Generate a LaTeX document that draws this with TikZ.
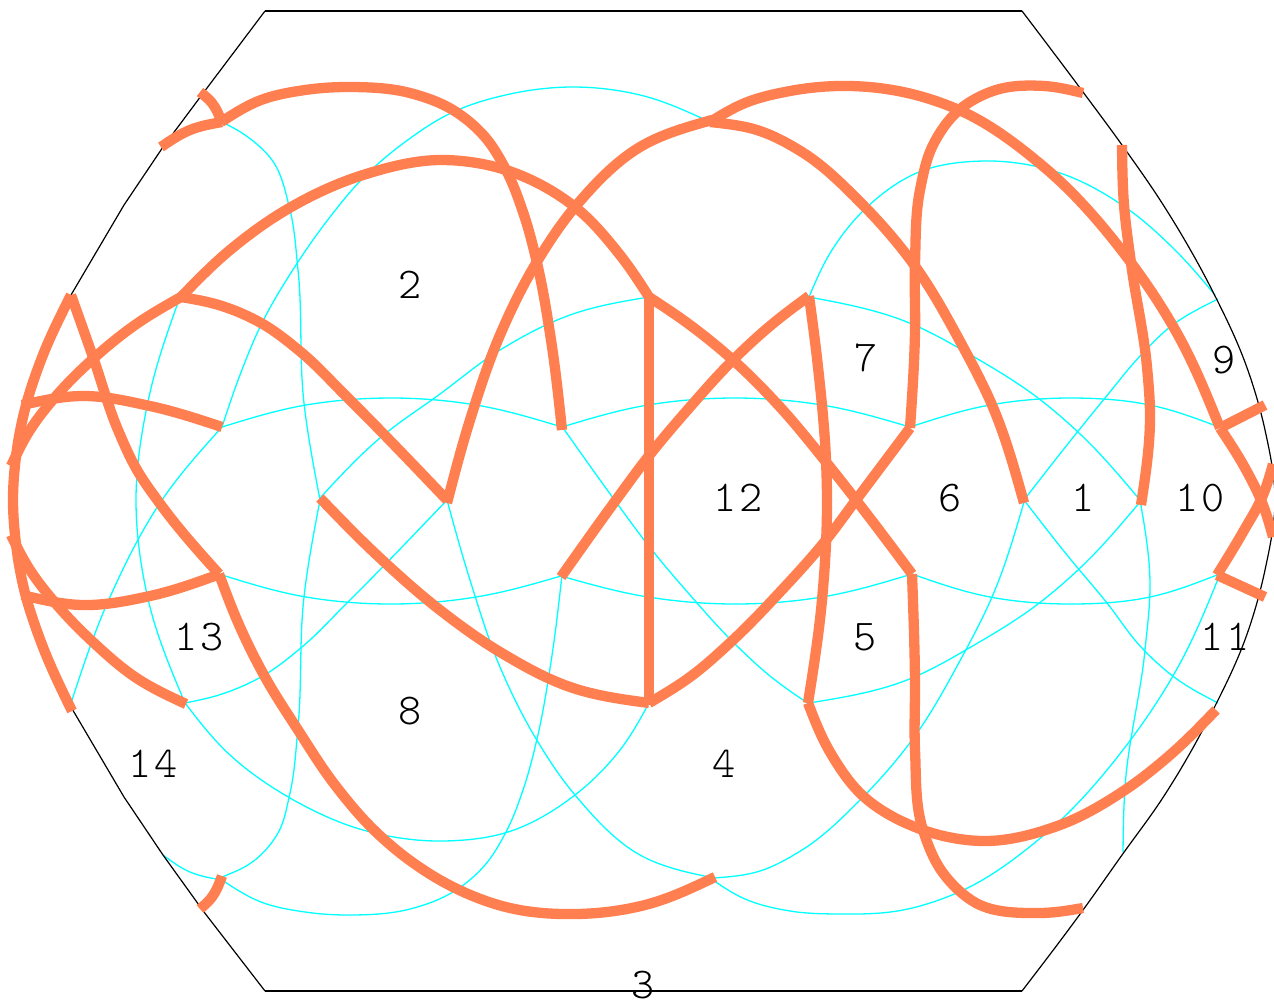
\documentclass[tikz,border=0pt]{standalone}
\usepackage{fontspec}
\newfontfamily\labfont[LetterSpace=6]{Latin Modern Mono Light}
\definecolor{coral}{RGB}{255,127,80}
\definecolor{aqua}{RGB}{0,255,255}
\tikzset{
  thinline/.style={color=aqua,line width=1.3pt,line join=round},
  thickline/.style={color=coral,line width=10.3pt,line join=round},
  frameline/.style={color=black,line width=1.2pt,line join=round},
  lab/.style={font=\labfont\fontsize{44}{44}\selectfont,text=black,inner sep=0pt,anchor=center}
}
% chord-length cubic spline through a list of points
\newcount\spn \newcount\spi \newcount\spa \newcount\spb
\def\spgob{\spgo(}
\def\spgo(#1,#2)#3{\advance\spn by 1
  \expandafter\def\csname spx\the\spn\endcsname{#1}%
  \expandafter\def\csname spy\the\spn\endcsname{#2}%
  \ifx#3\relax\let\spnext\relax\else\let\spnext\spgob\fi\spnext}
\def\spX#1{\csname spx\the#1\endcsname}
\def\spY#1{\csname spy\the#1\endcsname}
\newcommand{\cv}[2]{\begin{scope}[#1]%
  \spn=0 \spgo#2\relax
  \spi=1
  \loop\ifnum\spi<\spn
    \spb=\spi \advance\spb by 1
    \pgfmathsetmacro\tmpd{veclen(\spX\spb-\spX\spi,\spY\spb-\spY\spi)}%
    \expandafter\let\csname spd\the\spi\endcsname\tmpd
    \pgfmathsetmacro\tmpa{(\spX\spb-\spX\spi)/\tmpd}%
    \expandafter\let\csname spu\the\spi\endcsname\tmpa
    \pgfmathsetmacro\tmpa{(\spY\spb-\spY\spi)/\tmpd}%
    \expandafter\let\csname spv\the\spi\endcsname\tmpa
    \advance\spi by 1
  \repeat
  \spi=2
  \loop\ifnum\spi<\spn
    \spa=\spi \advance\spa by -1
    \edef\da{\csname spd\the\spa\endcsname}\edef\db{\csname spd\the\spi\endcsname}%
    \edef\ua{\csname spu\the\spa\endcsname}\edef\ub{\csname spu\the\spi\endcsname}%
    \edef\va{\csname spv\the\spa\endcsname}\edef\vb{\csname spv\the\spi\endcsname}%
    \pgfmathsetmacro\tmpa{(\da*\ub+\db*\ua)/(\da+\db)}%
    \expandafter\let\csname spp\the\spi\endcsname\tmpa
    \pgfmathsetmacro\tmpa{(\da*\vb+\db*\va)/(\da+\db)}%
    \expandafter\let\csname spq\the\spi\endcsname\tmpa
    \advance\spi by 1
  \repeat
  \pgfmathsetmacro\tmpa{(3*\csname spu1\endcsname-\csname spp2\endcsname)/2}%
  \expandafter\let\csname spp1\endcsname\tmpa
  \pgfmathsetmacro\tmpa{(3*\csname spv1\endcsname-\csname spq2\endcsname)/2}%
  \expandafter\let\csname spq1\endcsname\tmpa
  \spa=\spn \advance\spa by -1
  \pgfmathsetmacro\tmpa{(3*\csname spu\the\spa\endcsname-\csname spp\the\spa\endcsname)/2}%
  \expandafter\let\csname spp\the\spn\endcsname\tmpa
  \pgfmathsetmacro\tmpa{(3*\csname spv\the\spa\endcsname-\csname spq\the\spa\endcsname)/2}%
  \expandafter\let\csname spq\the\spn\endcsname\tmpa
  \spi=1
  \pgfpathmoveto{\pgfqpoint{\spX\spi pt}{-\spY\spi pt}}%
  \loop\ifnum\spi<\spn
    \spb=\spi \advance\spb by 1
    \edef\dd{\csname spd\the\spi\endcsname}%
    \pgfmathsetmacro\cax{\spX\spi+\csname spp\the\spi\endcsname*\dd/3}%
    \pgfmathsetmacro\cay{\spY\spi+\csname spq\the\spi\endcsname*\dd/3}%
    \pgfmathsetmacro\cbx{\spX\spb-\csname spp\the\spb\endcsname*\dd/3}%
    \pgfmathsetmacro\cby{\spY\spb-\csname spq\the\spb\endcsname*\dd/3}%
    \pgfpathcurveto{\pgfqpoint{\cax pt}{-\cay pt}}{\pgfqpoint{\cbx pt}{-\cby pt}}{\pgfqpoint{\spX\spb pt}{-\spY\spb pt}}%
    \advance\spi by 1
  \repeat
  \pgfusepath{stroke}\end{scope}}
\begin{document}
\begin{tikzpicture}[x=1pt,y=-1pt]
\useasboundingbox (0,0) rectangle (1274,1002);
\fill[white] (0,0) rectangle (1274,1002);
% cyan
\cv{thinline}{(222,427)(306,405)(390,398)(476,405)(562,427)}
\cv{thinline}{(562,427)(648,405)(735,398)(822,405)(910,427)}
\cv{thinline}{(910,427)(990,405)(1070,398)(1150,405)(1219,427)}
\cv{thinline}{(219,574)(306,597)(390,604)(476,597)(561,576)}
\cv{thinline}{(561,576)(648,597)(735,604)(822,597)(912,574)}
\cv{thinline}{(912,574)(990,597)(1070,604)(1150,597)(1217,575)}
\cv{thinline}{(71,703)(110,597)(162,500)(222,427)}
\cv{thinline}{(222,427)(240,375)(261,325)(296,265)(330,217)(363,178)(405,142)(451,113)(510,94)(575,87)(640,95)(712,123)}
\cv{thinline}{(180,297)(149,397)(136,500)(149,603)(185,703)}
\cv{thinline}{(185,703)(230,755)(290,798)(363,830)(443,841)(508,832)(575,795)(620,750)(649,703)}
\cv{thinline}{(185,703)(222,694)(261,677)(302,647)(345,605)(447,500)}
\cv{thinline}{(447,500)(470,580)(500,667)(535,737)(575,795)(640,855)(714,878)}
\cv{thinline}{(320,498)(380,438)(440,394)(500,350)(570,315)(649,297)}
\cv{thinline}{(320,500)(304,597)(298,727)(290,793)(278,833)(255,860)(222,877)}
\cv{thinline}{(320,500)(304,403)(298,270)(290,210)(272,160)(245,135)(222,122)}
\cv{thinline}{(163,855)(190,872)(222,880)}
\cv{thinline}{(222,880)(261,902)(305,912)(351,915)(410,909)(453,892)(485,865)(506,832)(524,787)(537,739)(551,662)(562,575)}
\cv{thinline}{(561,425)(616,502)(648,545)(690,595)(733,642)(770,676)(809,704)}
\cv{thinline}{(809,297)(832,250)(862,212)(919,172)(984,161)(1060,173)(1125,207)(1175,250)(1215,295)}
\cv{thinline}{(809,297)(907,322)(976,358)(1038,398)(1079,433)(1140,500)}
\cv{thinline}{(809,703)(907,680)(976,644)(1038,604)(1079,569)(1140,502)}
\cv{thinline}{(1024,500)(1067,445)(1105,398)(1141,355)(1170,327)(1218,299)}
\cv{thinline}{(1024,500)(1067,555)(1107,603)(1141,647)(1174,677)(1218,703)}
\cv{thinline}{(1024,502)(992,597)(962,657)(912,740)(862,798)(802,850)(760,871)(714,878)}
\cv{thinline}{(710,878)(745,899)(790,911)(838,914)(903,910)(959,892)(1044,835)(1129,742)(1178,667)(1220,574)}
\cv{thinline}{(1140,500)(1150,583)(1145,650)(1125,787)(1123,852)}
% frame
\draw[frameline] (265,11) -- (1022,11);
\draw[frameline] (265,991) -- (1022,991);
\draw[frameline] (265,11) -- (204,92) -- (163,147) -- (124,205) -- (71,295);
\draw[frameline] (265,991) -- (204,912) -- (163,855) -- (124,797) -- (71,707);
\cv{frameline}{(1022,11)(1083,92)(1122,145)(1162,203)(1212,290)(1246,365)(1265,430)(1275,500)(1265,570)(1246,637)(1212,712)(1162,799)(1122,855)(1083,910)(1022,991)}
% coral
\cv{thickline}{(161,147)(190,130)(222,122)}
\cv{thickline}{(221,122)(261,100)(305,90)(351,87)(410,93)(453,110)(485,137)(506,170)(524,215)(537,263)(551,340)(562,430)}
\cv{thickline}{(200,92)(212,103)(222,123)}
\cv{thickline}{(200,909)(212,897)(222,876)}
\cv{thickline}{(71,295)(41,360)(24,413)(15,465)(13,500)(15,535)(24,589)(41,642)(72,711)}
\cv{thickline}{(11,466)(30,430)(57,395)(94,358)(135,325)(181,297)}
\cv{thickline}{(11,535)(30,570)(57,605)(94,643)(135,677)(186,704)}
\cv{thickline}{(222,427)(150,406)(82,396)(22,405)}
\cv{thickline}{(220,574)(150,596)(82,605)(22,595)}
\cv{thickline}{(71,295)(94,360)(118,430)(137,470)(161,505)(219,574)}
\cv{thickline}{(219,574)(240,627)(265,677)(298,730)(335,785)(375,831)(412,862)(451,886)(510,908)(577,914)(645,905)(715,877)}
\cv{thickline}{(181,297)(230,250)(286,210)(363,175)(441,160)(506,170)(575,207)(620,255)(649,297)}
\cv{thickline}{(181,297)(222,306)(261,323)(302,353)(345,395)(447,500)}
\cv{thickline}{(447,503)(470,420)(500,335)(535,265)(575,207)(640,147)(712,120)}
\cv{thickline}{(320,498)(380,558)(440,610)(500,652)(570,687)(649,703)}
\cv{thickline}{(649,703)(690,677)(733,640)(780,592)(826,540)(856,500)(910,428)}
\cv{thickline}{(649,297)(690,325)(733,360)(780,407)(826,462)(856,500)(912,574)}
\draw[thickline] (649,297) -- (649,705);
\cv{thickline}{(561,577)(616,500)(648,457)(690,407)(733,360)(770,326)(809,296)}
\cv{thickline}{(809,296)(818,367)(826,460)(827,500)(822,600)(808,703)}
\cv{thickline}{(808,703)(830,752)(862,795)(923,830)(984,841)(1060,825)(1125,790)(1170,755)(1216,710)}
\cv{thickline}{(1024,503)(992,405)(962,345)(912,262)(862,204)(802,152)(760,131)(710,122)}
\cv{thickline}{(710,122)(745,103)(790,91)(838,86)(903,92)(959,110)(1044,167)(1129,260)(1178,335)(1220,428)}
\cv{thickline}{(1083,93)(1044,86)(996,90)(959,110)(933,145)(920,190)(915,263)(915,333)(910,428)}
\cv{thickline}{(912,574)(915,680)(915,750)(923,830)(943,873)(976,903)(1040,913)(1083,908)}
\cv{thickline}{(1122,145)(1124,205)(1131,263)(1147,367)(1150,413)(1141,505)}
\cv{thickline}{(1220,428)(1245,468)(1263,505)(1273,537)}
\cv{thickline}{(1217,575)(1243,532)(1263,495)(1273,464)}
\draw[thickline] (1220,428) -- (1265,405);
\draw[thickline] (1217,575) -- (1265,597);
% labels
\node[lab] (n2) at (410,285) {2};
\node[lab] (n7) at (866,358) {7};
\node[lab] (n9) at (1224,360) {9};
\node[lab] (n12) at (738,498) {12};
\node[lab] (n6) at (950,498) {6};
\node[lab] (n1) at (1083,498) {1};
\node[lab] (n10) at (1200,498) {10};
\node[lab] (n13) at (199,637) {13};
\node[lab] (n5) at (865,637) {5};
\node[lab] (n11) at (1225,637) {11};
\node[lab] (n8) at (410,711) {8};
\node[lab] (n14) at (153,764) {14};
\node[lab] (n4) at (724,764) {4};
\node[lab] (n3) at (643,985) {3};
\end{tikzpicture}
\end{document}
